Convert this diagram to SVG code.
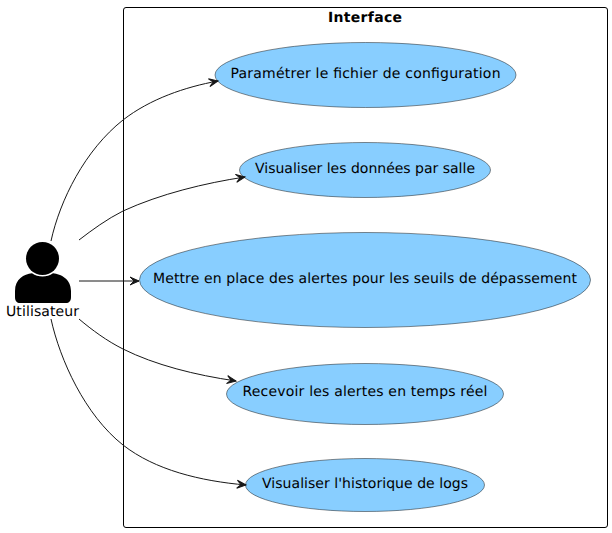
<svg xmlns="http://www.w3.org/2000/svg" width="612" height="533" viewBox="0 0 612 533">
<style>
text{font-family:"DejaVu Sans",sans-serif;font-size:14px;fill:#000;text-anchor:middle;text-rendering:geometricPrecision}
.u{fill:#88CEFF;stroke:#181818;stroke-width:.5}
.c{fill:none;stroke:#181818;stroke-width:1}
.h{fill:#181818;stroke:#181818;stroke-width:1}
</style>
<defs><path id="a" class="h" d="M-9,-4L0,0L-9,4L-5,0Z"/></defs>
<rect width="612" height="533" fill="#fff"/>
<g id="boundary"><rect x="123.500" y="7.500" width="484" height="520" rx="2.500" fill="none" stroke="#000" stroke-width="1"/>
<text x="365" y="22" style="font-weight:bold" textLength="74">Interface</text></g>
<g id="actor"><circle cx="42.500" cy="258.500" r="16.500" fill="#000"/><path d="M15,297V291C15,279 24,274 32,273.200A18.500,18.500 0 0 0 53,273.200C61,274 71,279 71,291V297C71,301 69,303 66,303H20C17,303 15,301 15,297Z" fill="#000"/><text x="42.500" y="316" textLength="73">Utilisateur</text></g>
<g id="u1"><ellipse class="u" cx="365.500" cy="75" rx="150.500" ry="32.500"/><text x="365.500" y="78" textLength="270">Paramétrer le fichier de configuration</text></g>
<g id="u2"><ellipse class="u" cx="365" cy="170" rx="125.500" ry="27.500"/><text x="365" y="173" textLength="220">Visualiser les données par salle</text></g>
<g id="u3"><ellipse class="u" cx="365" cy="280" rx="225.500" ry="47.500"/><text x="365" y="283" textLength="424">Mettre en place des alertes pour les seuils de dépassement</text></g>
<g id="u4"><ellipse class="u" cx="365" cy="394" rx="138.500" ry="30.500"/><text x="365" y="396" textLength="245">Recevoir les alertes en temps réel</text></g>
<g id="u5"><ellipse class="u" cx="365" cy="485" rx="119.500" ry="26.500"/><text x="365" y="488" textLength="206">Visualiser l'historique de logs</text></g>
<g id="connectors">
<path class="c" d="M51,241C60,200 85,150 123,120C150,99 185,87 218,81"/><use href="#a" transform="translate(218,81) rotate(-11)"/>
<path class="c" d="M79,240C92,230 107,219 123,211C160,194 205,183 245,177"/><use href="#a" transform="translate(245,177) rotate(-9)"/>
<path class="c" d="M79,281H139"/><use href="#a" transform="translate(139,281)"/>
<path class="c" d="M79,319C92,330 107,341 123,349C155,365 195,375 236,381"/><use href="#a" transform="translate(236,381) rotate(9)"/>
<path class="c" d="M51,319C60,360 85,415 123,445C155,470 200,481 246,485"/><use href="#a" transform="translate(246,485) rotate(5)"/>
</g>
</svg>
